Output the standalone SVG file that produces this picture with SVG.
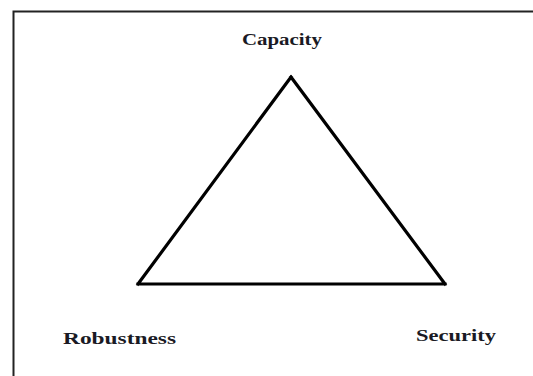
<svg xmlns="http://www.w3.org/2000/svg" width="533" height="376" viewBox="0 0 533 376">
  <style>
    .frame { fill: none; stroke: #222; stroke-width: 2; }
    .edge { fill: none; stroke: #000; stroke-width: 3.2; stroke-linejoin: miter; stroke-linecap: square; }
    .label { font-family: "Liberation Serif", "Times New Roman", serif; font-weight: bold; font-size: 16.5px; fill: #1a1a24; }
  </style>
  <rect width="533" height="376" fill="#fff"/>
  <!-- outer frame, running off the right and bottom edges -->
  <rect class="frame" x="13.5" y="11.5" width="540" height="380"/>
  <g id="connectors">
    <path class="edge" d="M291,77 L445,284 M445,284 L138,284 M138,284 L291,77"/>
  </g>
  <g id="capacity">
    <text class="label" x="242" y="45" textLength="80" lengthAdjust="spacingAndGlyphs">Capacity</text>
  </g>
  <g id="robustness">
    <text class="label" x="63" y="344" textLength="113" lengthAdjust="spacingAndGlyphs">Robustness</text>
  </g>
  <g id="security">
    <text class="label" x="416" y="341" textLength="80" lengthAdjust="spacingAndGlyphs">Security</text>
  </g>
</svg>
